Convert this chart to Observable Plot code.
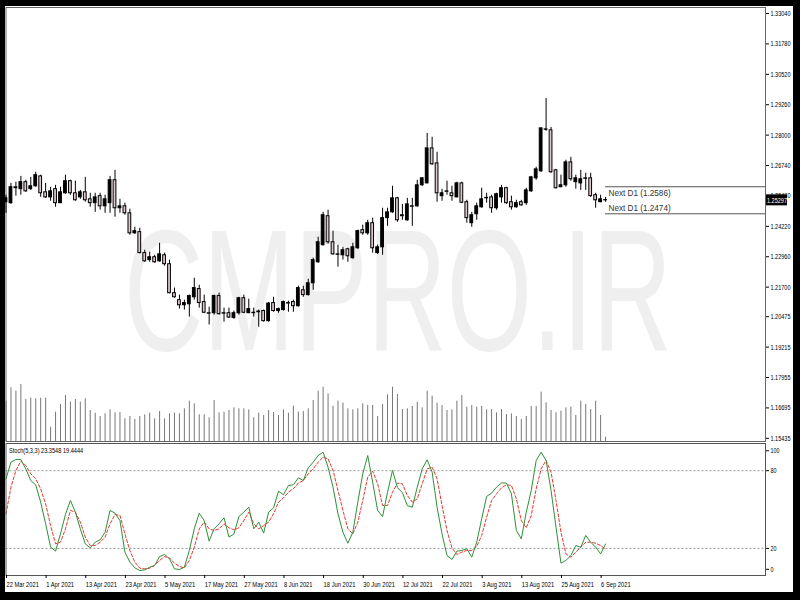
<!DOCTYPE html>
<html><head><meta charset="utf-8">
<script src="https://cdn.jsdelivr.net/npm/d3@7"></script>
<script src="https://cdn.jsdelivr.net/npm/@observablehq/plot@0.6"></script>
<style>
body{margin:0;background:#000;}
#wrap{position:relative;width:800px;height:600px;background:#fff;overflow:hidden;}
#wrap > *{position:absolute;}
#wrap svg{overflow:visible;}
.blk{background:#000;}
</style></head>
<body><div id="wrap"></div>
<script>
// ---- data (daily bars, index 0 = 22 Mar 2021) ----
const open = [
1.2522,1.2518,1.2584,1.2576,1.2605,1.2576,1.2588,1.2629,1.2563,1.2542,
1.2576,1.2518,1.2559,1.2609,1.2559,1.2542,1.2563,1.2534,1.2518,1.2547,
1.2505,1.2518,1.2613,1.2497,1.2505,1.2476,1.2393,1.2398,1.2311,1.2282,
1.2294,1.2277,1.2302,1.2265,1.2145,1.2116,1.2095,1.2099,1.2128,1.2162,
1.2108,1.2062,1.2062,1.2133,1.2062,1.2062,1.2042,1.2062,1.2124,1.2062,
1.2064,1.2069,1.2071,1.2029,1.2104,1.2071,1.2075,1.2104,1.2108,1.2091,
1.2157,1.2137,1.2186,1.2273,1.2344,1.2464,1.2356,1.2306,1.2302,1.2327,
1.2290,1.2331,1.2406,1.2393,1.2435,1.2311,1.2335,1.2456,1.2480,1.2538,
1.2468,1.2447,1.2505,1.2505,1.2592,1.2600,1.2745,1.2683,1.2547,1.2567,
1.2559,1.2542,1.2600,1.2522,1.2435,1.2472,1.2501,1.2538,1.2542,1.2497,
1.2542,1.2580,1.2522,1.2501,1.2522,1.2518,1.2567,1.2621,1.2650,1.2824,
1.2820,1.2654,1.2584,1.2592,1.2687,1.2605,1.2600,1.2621,1.2621,1.2551,
1.2522,1.2531];
const high = [
1.2551,1.2600,1.2605,1.2629,1.2613,1.2625,1.2646,1.2634,1.2600,1.2584,
1.2592,1.2584,1.2634,1.2613,1.2609,1.2571,1.2625,1.2559,1.2559,1.2559,
1.2551,1.2629,1.2654,1.2534,1.2518,1.2493,1.2418,1.2414,1.2323,1.2315,
1.2302,1.2352,1.2311,1.2282,1.2166,1.2137,1.2116,1.2137,1.2207,1.2178,
1.2137,1.2087,1.2137,1.2145,1.2083,1.2083,1.2071,1.2128,1.2137,1.2120,
1.2083,1.2075,1.2075,1.2106,1.2128,1.2083,1.2112,1.2112,1.2116,1.2174,
1.2174,1.2203,1.2290,1.2377,1.2480,1.2489,1.2402,1.2344,1.2335,1.2331,
1.2352,1.2406,1.2427,1.2447,1.2456,1.2344,1.2497,1.2497,1.2588,1.2542,
1.2513,1.2538,1.2538,1.2613,1.2623,1.2807,1.2791,1.2729,1.2576,1.2609,
1.2588,1.2605,1.2605,1.2530,1.2480,1.2518,1.2580,1.2559,1.2551,1.2559,
1.2592,1.2584,1.2547,1.2530,1.2530,1.2580,1.2629,1.2667,1.2830,1.2952,
1.2832,1.2658,1.2634,1.2696,1.2708,1.2634,1.2654,1.2642,1.2642,1.2559,
1.2551,1.2542];
const low = [
1.2476,1.2513,1.2547,1.2551,1.2563,1.2571,1.2584,1.2542,1.2538,1.2526,
1.2501,1.2516,1.2555,1.2551,1.2526,1.2534,1.2522,1.2501,1.2480,1.2489,
1.2476,1.2476,1.2460,1.2476,1.2468,1.2385,1.2389,1.2308,1.2273,1.2273,
1.2269,1.2273,1.2257,1.2142,1.2124,1.2079,1.2075,1.2046,1.2116,1.2083,
1.2060,1.2013,1.2054,1.2054,1.2025,1.2040,1.2037,1.2054,1.2060,1.2060,
1.2046,1.2004,1.2025,1.2025,1.2066,1.2062,1.2071,1.2066,1.2066,1.2087,
1.2128,1.2133,1.2157,1.2269,1.2340,1.2348,1.2302,1.2253,1.2282,1.2273,
1.2286,1.2327,1.2385,1.2385,1.2311,1.2306,1.2302,1.2422,1.2476,1.2439,
1.2447,1.2443,1.2422,1.2501,1.2588,1.2598,1.2675,1.2522,1.2526,1.2551,
1.2526,1.2540,1.2516,1.2435,1.2418,1.2447,1.2497,1.2518,1.2476,1.2489,
1.2518,1.2513,1.2489,1.2497,1.2505,1.2509,1.2563,1.2613,1.2646,1.2816,
1.2642,1.2576,1.2582,1.2584,1.2609,1.2576,1.2571,1.2571,1.2542,1.2497,
1.2520,1.2522];
const close = [
1.2538,1.2584,1.2580,1.2605,1.2567,1.2588,1.2634,1.2559,1.2542,1.2567,
1.2518,1.2563,1.2609,1.2559,1.2530,1.2563,1.2530,1.2518,1.2542,1.2505,
1.2534,1.2613,1.2497,1.2505,1.2476,1.2393,1.2402,1.2311,1.2277,1.2294,
1.2273,1.2306,1.2265,1.2145,1.2128,1.2095,1.2104,1.2133,1.2166,1.2104,
1.2064,1.2060,1.2133,1.2058,1.2060,1.2044,1.2062,1.2124,1.2064,1.2079,
1.2062,1.2066,1.2029,1.2102,1.2071,1.2079,1.2108,1.2102,1.2091,1.2166,
1.2137,1.2186,1.2282,1.2356,1.2468,1.2356,1.2306,1.2304,1.2323,1.2298,
1.2335,1.2402,1.2393,1.2435,1.2331,1.2335,1.2456,1.2480,1.2538,1.2447,
1.2464,1.2513,1.2503,1.2592,1.2621,1.2745,1.2679,1.2559,1.2559,1.2565,
1.2547,1.2600,1.2520,1.2456,1.2468,1.2505,1.2534,1.2540,1.2497,1.2555,
1.2580,1.2518,1.2501,1.2518,1.2509,1.2571,1.2625,1.2658,1.2828,1.2822,
1.2646,1.2580,1.2592,1.2687,1.2617,1.2621,1.2617,1.2619,1.2547,1.2530,
1.2534,1.25297];
const volume = [
121,161,151,171,126,130,128,130,130,43,
88,111,138,118,126,118,128,93,85,75,
83,95,86,87,68,75,66,75,80,85,
68,90,68,83,85,83,98,121,113,80,
80,71,123,86,88,93,101,98,98,95,
71,85,78,93,87,78,95,85,106,88,
90,98,123,151,163,143,106,121,115,98,
95,98,113,108,108,75,111,140,163,141,
96,98,105,118,101,151,136,115,108,93,
95,121,138,103,108,103,105,95,96,86,
96,81,83,75,66,75,105,105,148,116,
93,86,91,101,103,78,121,111,96,121,
78,13];
const stochK = [
73.7,86.6,88.6,88.6,81.4,72.4,69,55.7,39,21,
17.9,31.2,46.2,57,48,35.1,23.5,20.4,24.8,26.6,
32.5,49.3,47.2,41.5,17.1,9.4,5,2.9,3.4,5.5,
6.8,13.7,15.3,11.9,4.2,3.7,5.5,18.4,35.1,47.2,
41.5,25.6,35.1,39,43.6,28.7,31.2,44.6,48,51.8,
35.1,40.3,31.8,48,51.3,64.2,61.4,68.6,69.1,74.5,
72.4,82.2,86.6,91.7,94.3,82.7,67.3,46.7,32.5,24,
32.5,55.7,77.6,91.7,71.1,49.3,44.6,63.4,80.2,67,
63,53,51.8,67.3,81.4,88.4,78.9,51.8,31.2,14.5,
11.4,17.9,18.4,19.7,13.2,24.8,42.8,60.1,62.7,67.3,
70.6,70.4,62.1,33.8,27.4,48,64.7,87.9,94.3,87.9,
64.7,36.4,8.6,10.7,14.5,22.2,20.9,30,24.8,20.9,
15.8,23.3548];
const stochD = [
46.7,67.3,80.2,87.4,84,77.6,73.7,66,54.4,37.6,
23.5,24.8,35.1,49.3,48,40.3,28.7,22.2,22.2,24.8,
28.7,39,46.2,45.4,31.2,18.4,9.4,4.7,4.2,4.7,
6.8,10.7,13.7,12.7,8.6,6,5,10.7,20.9,35.1,
40.3,35.1,33.8,35.1,39,35.9,34.3,35.9,41.5,48,
39,35.1,37.6,40.3,46.7,55.7,59,63.4,66,70.4,
72.4,77.6,81.4,86.6,90.4,89.2,80.2,64.7,49.3,35.1,
31.2,40.3,57,75,79.6,69.9,53.1,53.1,63.4,70.4,
69.9,60.8,55.7,58.3,69.9,81.4,82.7,73.7,53.1,33.8,
20.4,15.3,17.1,18.4,18.4,21.5,30,44.1,57,62.1,
66.8,69.1,68.6,58.3,41.5,35.9,45.4,66,81.4,87.9,
78.9,57,32.5,15.8,13.2,17.1,20.9,24.8,24.8,24,
22.2,19.4444];
const dateTickIndex = [0,8,16,24,32,40,48,56,64,72,80,88,96,104,112,120];
const dateTickLabels = ["22 Mar 2021","1 Apr 2021","13 Apr 2021","23 Apr 2021","5 May 2021","17 May 2021","27 May 2021","8 Jun 2021","18 Jun 2021","30 Jun 2021","12 Jul 2021","22 Jul 2021","3 Aug 2021","13 Aug 2021","25 Aug 2021","6 Sep 2021"];
const priceTicks = [1.33040,1.31780,1.30520,1.29260,1.28000,1.26740,1.25480,1.24220,1.22960,1.21700,1.20475,1.19215,1.17955,1.16695,1.15435];
const nextD1Levels = [1.2586, 1.2474];
const stochTicks = [80, 20];
const stochTop = [100], stochBottom = [0];
const stochParams = "Stoch(5,3,3)";
const watermark = "CMPRO.IR";

// ---- build ----
const bars = open.map((o, i) => ({i, open: o, high: high[i], low: low[i], close: close[i], vol: volume[i], k: stochK[i], d: stochD[i]}));
const last = bars[bars.length - 1];
const FONT = "'Liberation Sans',Arial,sans-serif";
const xDomain = [0, 153.28];
const common = {width: 800, marginLeft: 5.5, marginRight: 35};
const wrap = document.getElementById("wrap");

// squeeze glyphs horizontally (the terminal's narrow font)
function condense(svg, selector, sx) {
  d3.select(svg).selectAll(selector).each(function () {
    const t = this.getAttribute("transform") || "";
    this.setAttribute("transform", `${t} scale(${sx},1)`);
  });
}

// watermark
const wm = d3.create("svg").attr("width", 800).attr("height", 600).style("left", "0px").style("top", "0px");
wm.append("text").attr("x", 124).attr("y", 350).attr("font-family", FONT)
  .attr("font-size", 172).attr("textLength", 548).attr("lengthAdjust", "spacingAndGlyphs")
  .attr("fill", "#efefef").text(watermark);
wrap.appendChild(wm.node());

// volume
const volPlot = Plot.plot({
  ...common, height: 57, marginTop: 0, marginBottom: 0,
  x: {domain: xDomain, axis: null}, y: {domain: [0, 171], axis: null},
  style: {background: "transparent"},
  marks: [Plot.ruleX(bars, {x: "i", y1: 0, y2: "vol", stroke: "#777", strokeWidth: 1})]
});
volPlot.style.left = "0px"; volPlot.style.top = "384px";
wrap.appendChild(volPlot);

// price
const pricePlot = Plot.plot({
  ...common, height: 441, marginTop: 7, marginBottom: 0,
  x: {domain: xDomain, axis: null, label: null},
  y: {domain: [1.15303, 1.33289], label: null},
  style: {background: "transparent", fontFamily: FONT, fontSize: "7.5px", color: "#000"},
  marks: [
    Plot.frame({stroke: "#666"}),
    Plot.ruleX(bars, {x: "i", y1: "low", y2: "high", stroke: "#000", strokeWidth: 1}),
    Plot.rect(bars, {x1: d => d.i - 0.28, x2: d => d.i + 0.28, y1: "open", y2: "close",
      fill: d => d.close >= d.open ? "#000" : "#dcc8c8", stroke: "#000", strokeWidth: 1}),
    Plot.ruleY(nextD1Levels, {y: d => d, x1: bars.length - 1, x2: xDomain[1], stroke: "#555", strokeWidth: 1}),
    Plot.text([nextD1Levels[0]], {x: bars.length - 1, y: d => d, text: d => `Next D1 (${d.toFixed(4)})`, textAnchor: "start", dx: 3, dy: 6, fontSize: 9.5, fill: "#333"}),
    Plot.text([nextD1Levels[1]], {x: bars.length - 1, y: d => d, text: d => `Next D1 (${d.toFixed(4)})`, textAnchor: "start", dx: 3, dy: -6, fontSize: 9.5, fill: "#333"}),
    Plot.axisY(priceTicks, {anchor: "right", tickSize: 3, tickPadding: 2, tickFormat: d => d.toFixed(5), label: null})
  ]
});
pricePlot.style.left = "0px"; pricePlot.style.top = "0px";
condense(pricePlot, 'g[aria-label="y-axis tick label"] text', 0.74);
condense(pricePlot, 'g[aria-label="text"] text', 0.86);
{
  const yv = pricePlot.scale("y").apply(last.close);
  const g = d3.select(pricePlot).append("g");
  g.append("rect").attr("x", 766).attr("y", yv - 5.5).attr("width", 21).attr("height", 11).attr("fill", "#000");
  g.append("text").attr("transform", `translate(767,${yv + 2.8}) scale(0.74,1)`).attr("fill", "#fff")
    .attr("text-anchor", "start").attr("font-family", FONT).attr("font-size", 7.5).text(last.close.toFixed(5));
}
wrap.appendChild(pricePlot);

// stochastic
const stochPlot = Plot.plot({
  ...common, height: 149, marginTop: 0, marginBottom: 17,
  x: {domain: xDomain, label: null},
  y: {domain: [-0.93, 101.0], label: null},
  style: {background: "transparent", fontFamily: FONT, fontSize: "7.5px", color: "#000"},
  marks: [
    Plot.ruleY(stochTicks, {stroke: "#999", strokeDasharray: "2,2"}),
    Plot.line(bars, {x: "i", y: "d", stroke: "#e8362f", strokeWidth: 1, strokeDasharray: "3,2"}),
    Plot.line(bars, {x: "i", y: "k", stroke: "#2f8f36", strokeWidth: 1}),
    Plot.frame({stroke: "#555"}),
    Plot.axisY(stochTicks, {anchor: "right", tickSize: 3, tickPadding: 2, label: null}),
    Plot.axisY(stochTop, {anchor: "right", tickSize: 3, tickPadding: 2, dy: 6, label: null}),
    Plot.axisY(stochBottom, {anchor: "right", tickSize: 3, tickPadding: 2, dy: -5, label: null}),
    Plot.axisX(dateTickIndex, {anchor: "bottom", tickSize: 3, tickPadding: 3, textAnchor: "start", dx: 0.5,
      tickFormat: d => dateTickLabels[dateTickIndex.indexOf(d)], label: null, fontSize: 7.8}),
    Plot.text([`${stochParams} ${last.k.toFixed(4)} ${last.d.toFixed(4)}`], {frameAnchor: "top-left", dx: 3, dy: 4, lineAnchor: "top", textAnchor: "start", fontSize: 7.8})
  ]
});
stochPlot.style.left = "0px"; stochPlot.style.top = "443px";
condense(stochPlot, 'g[aria-label="y-axis tick label"] text', 0.72);
condense(stochPlot, 'g[aria-label="x-axis tick label"] text', 0.74);
condense(stochPlot, 'g[aria-label="text"] text', 0.72);
wrap.appendChild(stochPlot);

// black screen frame
[[0,0,800,6],[0,0,5,600],[793,0,7,600],[0,592,800,8]].forEach(([l,t,w,h]) => {
  const d = document.createElement("div"); d.className = "blk";
  Object.assign(d.style, {left: l+"px", top: t+"px", width: w+"px", height: h+"px"});
  wrap.appendChild(d);
});
</script>
</body></html>
